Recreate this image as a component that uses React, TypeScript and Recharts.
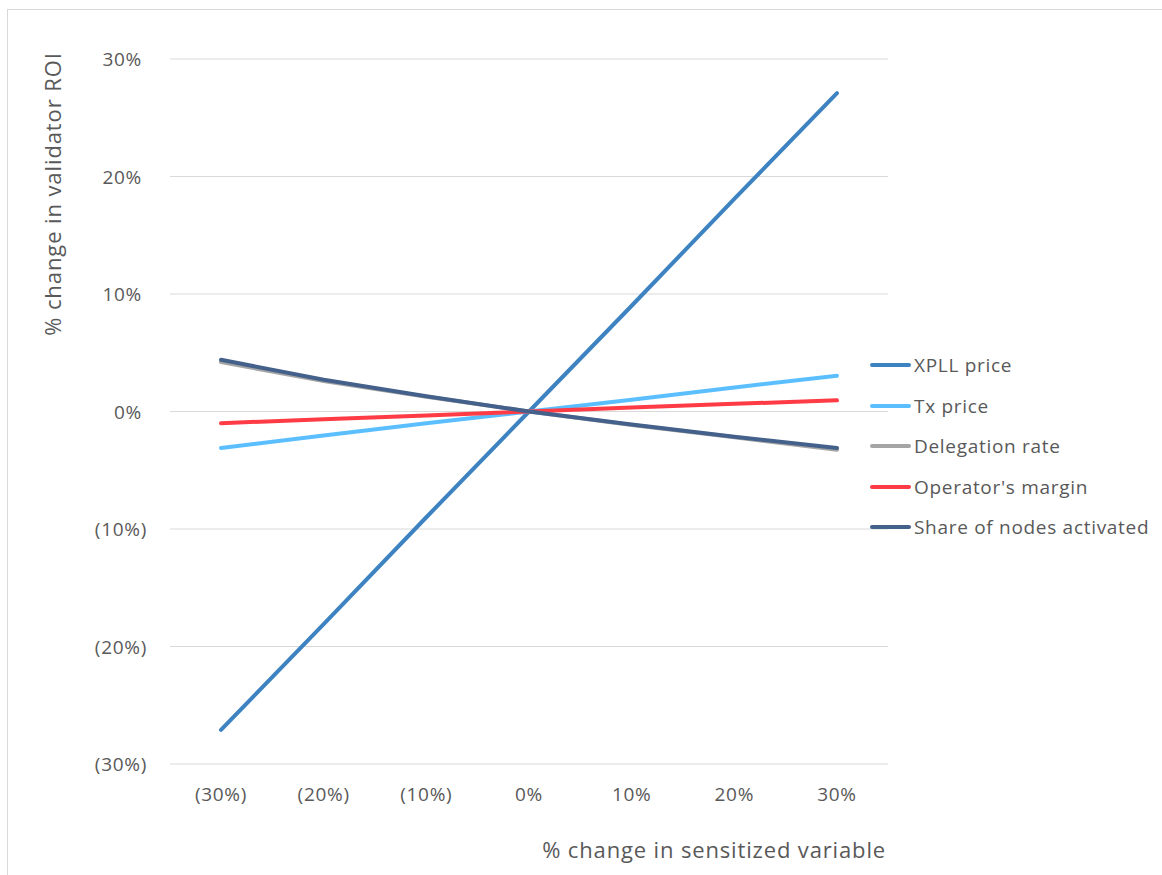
import React from "react";
import { LineChart, Line, XAxis, YAxis, CartesianGrid, Label } from "recharts";

// Sensitivity of validator ROI to a ±30% change in each input variable
const categories = ["(30%)", "(20%)", "(10%)", "0%", "10%", "20%", "30%"];
const xpllPrice = [-27.1, -18.1, -9.0, 0, 9.0, 18.1, 27.1];
const txPrice = [-3.1, -2.05, -1.0, 0, 1.0, 2.05, 3.05];
const delegationRate = [4.2, 2.6, 1.25, 0, -1.15, -2.2, -3.25];
const operatorsMargin = [-1.0, -0.65, -0.33, 0, 0.33, 0.65, 0.95];
const shareOfNodes = [4.4, 2.7, 1.3, 0, -1.1, -2.15, -3.1];
const yTicks = [-30, -20, -10, 0, 10, 20, 30];

const series = [
  { key: "xpll", name: "XPLL price", values: xpllPrice, color: "#3E83C1" },
  { key: "tx", name: "Tx price", values: txPrice, color: "#5BBFFF" },
  { key: "deleg", name: "Delegation rate", values: delegationRate, color: "#A5A5A5" },
  { key: "margin", name: "Operator's margin", values: operatorsMargin, color: "#FF3B45" },
  { key: "share", name: "Share of nodes activated", values: shareOfNodes, color: "#44618B" },
];

const data = categories.map((c, i) => {
  const row: Record<string, string | number> = { cat: c };
  series.forEach((s) => (row[s.key] = s.values[i]));
  return row;
});

const FONT = "'Open Sans', sans-serif";
const TEXT = "#595959";
const TICK_SPACING = 0.7;

const pct = (v: number) => (v < 0 ? `(${Math.abs(v)}%)` : `${v}%`);

const YTick = (props: any) => {
  const { x, y, payload } = props;
  const v = payload.value as number;
  return (
    <text
      x={v < 0 ? x - 17 : x - 22}
      y={y}
      textAnchor="end"
      dominantBaseline="central"
      fill={TEXT}
      fontSize={19}
      letterSpacing={TICK_SPACING}
      fontFamily={FONT}
    >
      {pct(v)}
    </text>
  );
};

const XTick = (props: any) => {
  const { x, y, payload } = props;
  return (
    <text
      x={x}
      y={y + 24}
      textAnchor="middle"
      dominantBaseline="central"
      fill={TEXT}
      fontSize={19}
      letterSpacing={TICK_SPACING}
      fontFamily={FONT}
    >
      {payload.value}
    </text>
  );
};

const ChartLegend = () => (
  <div
    style={{
      position: "absolute",
      left: 870,
      top: 345,
      fontFamily: FONT,
      fontSize: 19,
      letterSpacing: TICK_SPACING,
      color: TEXT,
    }}
  >
    {series.map((s) => (
      <div key={s.key} style={{ display: "flex", alignItems: "center", height: 40.5 }}>
        <span style={{ display: "inline-block", width: 41, height: 4, borderRadius: 2, background: s.color, marginRight: 3 }} />
        <span style={{ whiteSpace: "nowrap" }}>{s.name}</span>
      </div>
    ))}
  </div>
);

export default function App() {
  return (
    <div style={{ position: "absolute", left: 0, top: 0, width: 1162, height: 875, overflow: "hidden", background: "#fff" }}>
      <div
        style={{
          position: "absolute",
          left: 7,
          top: 9,
          width: 1200,
          height: 900,
          borderLeft: "1.5px solid #D9D9D9",
          borderTop: "1.5px solid #D9D9D9",
        }}
      />
      <LineChart
        width={1162}
        height={875}
        data={data}
        margin={{ top: 59, right: 274, bottom: 0, left: 0 }}
        style={{ position: "absolute", left: 0, top: 0 }}
      >
        <CartesianGrid vertical={false} stroke="#D9D9D9" strokeWidth={1.2} />
        <XAxis
          dataKey="cat"
          axisLine={false}
          tickLine={false}
          padding={{ left: 51, right: 51 }}
          height={111}
          tick={<XTick />}
          interval={0}
          tickMargin={0}
        >
          <Label
            content={(p: any) => {
              const vb = p.viewBox;
              return (
                <text
                  x={vb.x + vb.width - 2}
                  y={vb.y + 85}
                  textAnchor="end"
                  dominantBaseline="central"
                  fill={TEXT}
                  fontSize={22}
                  letterSpacing={0.85}
                  fontFamily={FONT}
                >
                  % change in sensitized variable
                </text>
              );
            }}
          />
        </XAxis>
        <YAxis
          type="number"
          domain={[-30, 30]}
          ticks={yTicks}
          axisLine={false}
          tickLine={false}
          width={170}
          tick={<YTick />}
          tickMargin={0}
        >
          <Label
            content={() => (
              <text
                x={52}
                y={194}
                transform="rotate(-90 52 194)"
                textAnchor="middle"
                dominantBaseline="central"
                fill={TEXT}
                fontSize={22}
                letterSpacing={0.9}
                fontFamily={FONT}
              >
                % change in validator ROI
              </text>
            )}
          />
        </YAxis>
        {series.map((s) => (
          <Line
            key={s.key}
            dataKey={s.key}
            name={s.name}
            stroke={s.color}
            strokeWidth={4}
            strokeLinecap="round"
            dot={false}
            activeDot={false}
            type="linear"
            isAnimationActive={false}
          />
        ))}
      </LineChart>
      <ChartLegend />
    </div>
  );
}
